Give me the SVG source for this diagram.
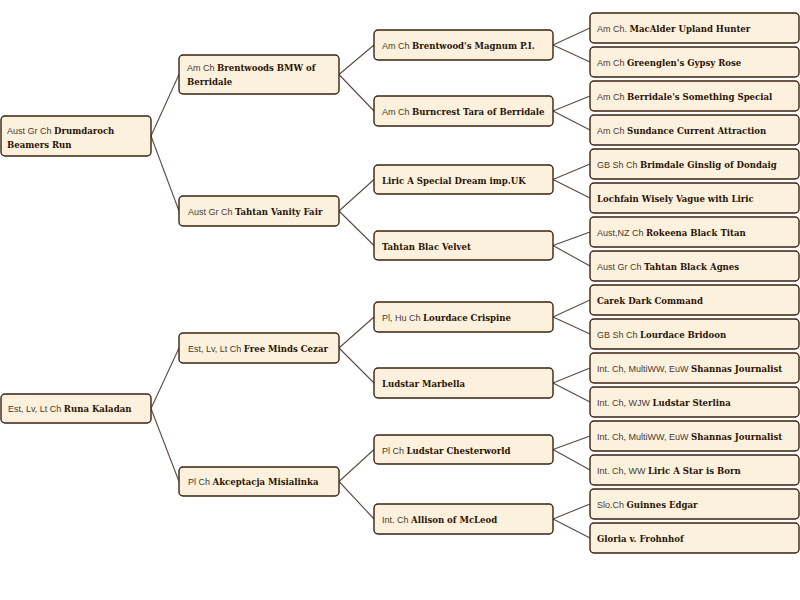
<svg xmlns="http://www.w3.org/2000/svg" width="800" height="600" viewBox="0 0 800 600">
<style>
.b rect{fill:#fcf1dd;stroke:#3a2212;stroke-width:1.4}
text{font-size:9px;fill:#3b2b22}
.p{font-family:"Liberation Sans",Arial,sans-serif;font-weight:normal;fill:#4a3a30}
.n{font-family:"DejaVu Serif Condensed","DejaVu Serif",serif;font-weight:bold;fill:#2a1306;font-stretch:condensed;font-size:9.5px}
#connectors line{stroke:#5a4a40;stroke-width:1.1}
</style>
<rect width="800" height="600" fill="#ffffff"/>
<g id="connectors">
<line x1="151" y1="136" x2="179" y2="74.5"/>
<line x1="151" y1="136" x2="179" y2="211"/>
<line x1="151" y1="408.5" x2="179" y2="348"/>
<line x1="151" y1="408.5" x2="179" y2="481.5"/>
<line x1="339" y1="74.5" x2="374" y2="45"/>
<line x1="339" y1="74.5" x2="374" y2="111"/>
<line x1="339" y1="211" x2="374" y2="179.5"/>
<line x1="339" y1="211" x2="374" y2="245.5"/>
<line x1="339" y1="348" x2="374" y2="317"/>
<line x1="339" y1="348" x2="374" y2="383"/>
<line x1="339" y1="481.5" x2="374" y2="449.5"/>
<line x1="339" y1="481.5" x2="374" y2="519"/>
<line x1="553" y1="45" x2="590" y2="28"/>
<line x1="553" y1="45" x2="590" y2="62"/>
<line x1="553" y1="111" x2="590" y2="96"/>
<line x1="553" y1="111" x2="590" y2="130"/>
<line x1="553" y1="179.5" x2="590" y2="164"/>
<line x1="553" y1="179.5" x2="590" y2="198"/>
<line x1="553" y1="245.5" x2="590" y2="232"/>
<line x1="553" y1="245.5" x2="590" y2="266"/>
<line x1="553" y1="317" x2="590" y2="300"/>
<line x1="553" y1="317" x2="590" y2="334"/>
<line x1="553" y1="383" x2="590" y2="368"/>
<line x1="553" y1="383" x2="590" y2="402"/>
<line x1="553" y1="449.5" x2="590" y2="436"/>
<line x1="553" y1="449.5" x2="590" y2="470"/>
<line x1="553" y1="519" x2="590" y2="504"/>
<line x1="553" y1="519" x2="590" y2="538"/>
</g>
<!-- column 1 -->
<g id="n1" class="b"><rect x="1" y="116" width="150" height="40" rx="4"/><text x="7" y="134"><tspan class="p">Aust Gr Ch </tspan><tspan class="n">Drumdaroch</tspan></text><text x="7" y="148" class="n">Beamers Run</text></g>
<g id="n2" class="b"><rect x="1" y="394" width="150" height="29" rx="4"/><text x="8" y="412"><tspan class="p">Est, Lv, Lt Ch </tspan><tspan class="n">Runa Kaladan</tspan></text></g>
<!-- column 2 -->
<g id="n3" class="b"><rect x="179" y="55" width="160" height="39" rx="4"/><text x="187" y="71"><tspan class="p">Am Ch </tspan><tspan class="n">Brentwoods BMW of</tspan></text><text x="187" y="85" class="n">Berridale</text></g>
<g id="n4" class="b"><rect x="179" y="196" width="160" height="30" rx="4"/><text x="188" y="215"><tspan class="p">Aust Gr Ch </tspan><tspan class="n">Tahtan Vanity Fair</tspan></text></g>
<g id="n5" class="b"><rect x="179" y="333" width="160" height="30" rx="4"/><text x="188" y="352"><tspan class="p">Est, Lv, Lt Ch </tspan><tspan class="n">Free Minds Cezar</tspan></text></g>
<g id="n6" class="b"><rect x="179" y="467" width="160" height="29" rx="4"/><text x="188" y="485"><tspan class="p">Pl Ch </tspan><tspan class="n">Akceptacja Misialinka</tspan></text></g>
<!-- column 3 -->
<g id="n7" class="b"><rect x="374" y="30" width="179" height="30" rx="4"/><text x="382" y="49"><tspan class="p">Am Ch </tspan><tspan class="n">Brentwood's Magnum P.I.</tspan></text></g>
<g id="n8" class="b"><rect x="374" y="96" width="179" height="30" rx="4"/><text x="382" y="115"><tspan class="p">Am Ch </tspan><tspan class="n">Burncrest Tara of Berridale</tspan></text></g>
<g id="n9" class="b"><rect x="374" y="165" width="179" height="29" rx="4"/><text x="382" y="184" class="n">Liric A Special Dream imp.UK</text></g>
<g id="n10" class="b"><rect x="374" y="231" width="179" height="29" rx="4"/><text x="382" y="250" class="n">Tahtan Blac Velvet</text></g>
<g id="n11" class="b"><rect x="374" y="302" width="179" height="30" rx="4"/><text x="382" y="321"><tspan class="p">Pl, Hu Ch </tspan><tspan class="n">Lourdace Crispine</tspan></text></g>
<g id="n12" class="b"><rect x="374" y="368" width="179" height="30" rx="4"/><text x="382" y="387" class="n">Ludstar Marbella</text></g>
<g id="n13" class="b"><rect x="374" y="435" width="179" height="29" rx="4"/><text x="382" y="454"><tspan class="p">Pl Ch </tspan><tspan class="n">Ludstar Chesterworld</tspan></text></g>
<g id="n14" class="b"><rect x="374" y="504" width="179" height="30" rx="4"/><text x="382" y="523"><tspan class="p">Int. Ch </tspan><tspan class="n">Allison of McLeod</tspan></text></g>
<!-- column 4 -->
<g id="n15" class="b"><rect x="590" y="13" width="209" height="30" rx="4"/><text x="597" y="32"><tspan class="p">Am Ch. </tspan><tspan class="n">MacAlder Upland Hunter</tspan></text></g>
<g id="n16" class="b"><rect x="590" y="47" width="209" height="30" rx="4"/><text x="597" y="66"><tspan class="p">Am Ch </tspan><tspan class="n">Greenglen's Gypsy Rose</tspan></text></g>
<g id="n17" class="b"><rect x="590" y="81" width="209" height="30" rx="4"/><text x="597" y="100"><tspan class="p">Am Ch </tspan><tspan class="n">Berridale's Something Special</tspan></text></g>
<g id="n18" class="b"><rect x="590" y="115" width="209" height="30" rx="4"/><text x="597" y="134"><tspan class="p">Am Ch </tspan><tspan class="n">Sundance Current Attraction</tspan></text></g>
<g id="n19" class="b"><rect x="590" y="149" width="209" height="30" rx="4"/><text x="597" y="168"><tspan class="p">GB Sh Ch </tspan><tspan class="n">Brimdale Ginslig of Dondaig</tspan></text></g>
<g id="n20" class="b"><rect x="590" y="183" width="209" height="30" rx="4"/><text x="597" y="202" class="n">Lochfain Wisely Vague with Liric</text></g>
<g id="n21" class="b"><rect x="590" y="217" width="209" height="30" rx="4"/><text x="597" y="236"><tspan class="p">Aust,NZ Ch </tspan><tspan class="n">Rokeena Black Titan</tspan></text></g>
<g id="n22" class="b"><rect x="590" y="251" width="209" height="30" rx="4"/><text x="597" y="270"><tspan class="p">Aust Gr Ch </tspan><tspan class="n">Tahtan Black Agnes</tspan></text></g>
<g id="n23" class="b"><rect x="590" y="285" width="209" height="30" rx="4"/><text x="597" y="304" class="n">Carek Dark Command</text></g>
<g id="n24" class="b"><rect x="590" y="319" width="209" height="30" rx="4"/><text x="597" y="338"><tspan class="p">GB Sh Ch </tspan><tspan class="n">Lourdace Bridoon</tspan></text></g>
<g id="n25" class="b"><rect x="590" y="353" width="209" height="30" rx="4"/><text x="597" y="372"><tspan class="p">Int. Ch, MultiWW, EuW </tspan><tspan class="n">Shannas Journalist</tspan></text></g>
<g id="n26" class="b"><rect x="590" y="387" width="209" height="30" rx="4"/><text x="597" y="406"><tspan class="p">Int. Ch, WJW </tspan><tspan class="n">Ludstar Sterlina</tspan></text></g>
<g id="n27" class="b"><rect x="590" y="421" width="209" height="30" rx="4"/><text x="597" y="440"><tspan class="p">Int. Ch, MultiWW, EuW </tspan><tspan class="n">Shannas Journalist</tspan></text></g>
<g id="n28" class="b"><rect x="590" y="455" width="209" height="30" rx="4"/><text x="597" y="474"><tspan class="p">Int. Ch, WW </tspan><tspan class="n">Liric A Star is Born</tspan></text></g>
<g id="n29" class="b"><rect x="590" y="489" width="209" height="30" rx="4"/><text x="597" y="508"><tspan class="p">Slo.Ch </tspan><tspan class="n">Guinnes Edgar</tspan></text></g>
<g id="n30" class="b"><rect x="590" y="523" width="209" height="30" rx="4"/><text x="597" y="542" class="n">Gloria v. Frohnhof</text></g>
</svg>
